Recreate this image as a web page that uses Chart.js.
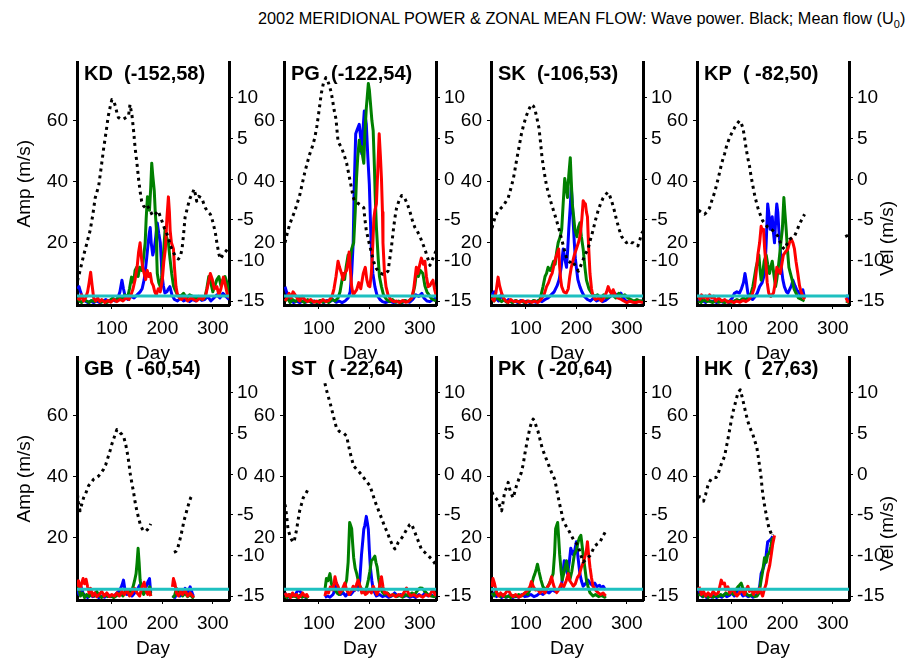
<!DOCTYPE html>
<html>
<head>
<meta charset="utf-8">
<script src="https://cdn.jsdelivr.net/npm/chart.js@4.4.1/dist/chart.umd.min.js"></script>
<style>
  body { margin: 0; background: #fff; width: 910px; height: 660px; position: relative; overflow: hidden; }
  canvas { position: absolute; }
  #title { position: absolute; left: 258px; top: 8px; font: 16.3px "Liberation Sans", Arial, sans-serif; color: #000; white-space: nowrap; line-height: 20px; }
  #title sub { font-size: 11px; vertical-align: -4px; line-height: 0; }
</style>
</head>
<body>
<div id="title">2002 MERIDIONAL POWER &amp; ZONAL MEAN FLOW: Wave power. Black; Mean flow (U<sub>0</sub>)</div>
<script>
'use strict';

var FONT = '"Liberation Sans", Arial, Helvetica, sans-serif';

//Station labels (name, lon, lat)
var STATIONS = ['KD  (-152,58)', 'PG  (-122,54)', 'SK  (-106,53)', 'KP  ( -82,50)',
                'GB  ( -60,54)', 'ST  ( -22,64)', 'PK  ( -20,64)', 'HK  (  27,63)'];

//Axis ranges and ticks
var X_MIN = 31, X_MAX = 332;
var X_TICKS = [100, 200, 300];
var AMP_MIN = -0.3, AMP_MAX = 78.9;
var AMP_TICKS = [20, 40, 60];
var VEL_MIN = -15.47, VEL_MAX = 14.38;
var VEL_TICKS = [-15, -10, -5, 0, 5, 10];

//Threshold level (cyan line) per station
var CYAN_LEVEL = [2.6, 2.6, 2.6, 2.6, 3.2, 3.2, 3.2, 3.2];

//KD: [day, value]
var KD_VEL = [[32,-12.5],[38,-11],[44,-9.4],[50,-8],[57,-6.3],[62,-4.5],[67,-2.3],[74,-0.8],[79,1.5],[84,3.9],[89,6],[93,7.8],[97,9],[100,9.8],[104,9.6],[107,9.0],[110,8.2],[113,7.6],[118,7.4],[123,7.4],[128,7.6],[133,7.8],[136,9.2],[140,7.8],[143,6],[146,3.9],[150,1.8],[153,0],[156,-1.5],[159,-2.7],[163,-3.3],[166,-3.5],[170,-3.2],[176,-3.9],[181,-4.5],[186,-4.3],[190,-4.0],[192,-3.9],[196,-4.6],[199,-5.1],[204,-6],[209,-6.7],[213,-7.5],[216,-8.2],[222,-9.0],[227,-9.6],[232,-9.8],[236,-9.4],[239,-8.6],[242,-6.8],[245,-4.7],[250,-3.4],[255,-2.3],[259,-1.8],[263,-1.2],[266,-2],[268,-2.7],[272,-2.1],[278,-2.3],[282,-3],[285,-3.5],[290,-4],[295,-4.3],[298,-4.8],[301,-5.5],[305,-6.6],[308,-7.8],[312,-9.2],[315,-9.8],[319,-9.4],[324,-9.0],[329,-8.6],[332,-8.4]];
var KD_BLUE = [[32,5],[35,5.7],[38,4],[42,2],[47,1],[52,0.5],[58,1],[64,0.5],[70,1],[76,0.5],[82,1],[88,1.5],[94,0.8],[100,1.5],[106,1],[112,2],[116,4],[120,7.8],[123,5],[127,2],[132,1.5],[138,2.5],[144,2],[150,3],[156,4],[160,5],[164,8],[167,12],[169,15],[172,20],[174,23],[176,25],[178,20],[181,16],[184,18],[187,22],[190,26.5],[193,23],[196,20],[198,14],[199,10],[202,6],[205,3.6],[209,4],[212,5],[215,5.7],[219,3],[224,1.5],[230,1],[236,2],[242,1],[248,1.5],[254,0.8],[260,1.5],[266,1],[272,2],[278,1.2],[284,1.5],[290,2.5],[296,1],[302,2],[308,3],[314,2],[320,3.5],[326,2.5],[332,1.5]];
var KD_GREEN = [[32,2],[36,1],[40,0.5],[45,1.5],[50,1],[55,0.5],[60,1.2],[66,0.8],[72,1.5],[78,0.6],[84,1],[90,0.5],[96,1.2],[102,2],[108,1],[114,2.5],[120,1.5],[126,3],[131,2],[135,5],[139,8.8],[143,7],[146,11],[149,12],[152,9],[155,12],[159,11],[162,14],[166,20],[168,28],[170.5,35],[172,33],[174.5,30.6],[177,38],[179,46],[181,42],[184,37],[186,30],[188,25],[189,15],[190,10],[193,7],[196,5.7],[199,9],[202,16],[205.5,24.4],[208,22],[212,20],[215,15],[218.5,10],[222,6],[225,4.7],[230,3],[236,2.5],[242,3.5],[248,2],[254,3],[260,2.5],[266,1.8],[272,2.5],[278,1.5],[284,2],[288,5],[292,9],[296,7],[300,4],[304,6],[308,8],[312,9],[316,6],[320,8],[324,9],[328,7],[332,3]];
var KD_RED = [[32,2],[36,1.5],[40,3],[44,1],[48,2],[52,4],[55,7],[58,10.4],[61,6],[64,2],[68,1],[72,2],[76,0.8],[80,1.5],[86,0.5],[92,1.2],[98,0.6],[104,1.5],[110,0.8],[116,1.5],[122,1],[128,2],[134,1.5],[138,3],[142,5],[146,8],[150,12],[153,17],[156,20],[158,16],[161,12],[164,10],[167,8],[170,11],[173,9],[176,10],[179,7],[182,6],[185,4],[188,3],[192,5],[196,4],[200,8],[203,14],[206,18],[209,28],[212,35],[214,30],[215.5,24],[218,20],[222,18],[224,12],[227,5.7],[230,3],[234,2],[238,1.5],[244,2.5],[250,1],[256,2],[262,1.5],[268,1],[274,2],[280,1.5],[286,3],[290,6],[295,10],[299,8],[303,5],[308,5.7],[312,3],[316,5],[321,8.8],[325,6],[329,3],[332,2]];

//PG
var PG_VEL = [[33,-7.8],[38,-6.5],[42.6,-5.5],[48,-4.6],[52.5,-3.9],[57,-3],[62,-2],[67,-0.6],[72,0.8],[77,2],[82,3.1],[87,4],[92,5.1],[96,6.5],[99,7.8],[102,9.2],[105,10.6],[109,11.8],[114,12.5],[117,12.2],[120,11.7],[124,10.8],[127,9.8],[130,8.6],[134,7.4],[136,6],[138,4.7],[141,4.3],[145,3.9],[150,3],[155,2],[160,0.4],[165,-1.2],[168,-2.2],[171,-2.7],[176,-2.9],[181,-3.1],[185,-3.3],[189,-3.5],[191,-4.8],[194,-6.3],[199,-7.7],[204,-9],[209,-10.2],[214,-11],[220,-11.5],[227,-11.7],[232,-11.6],[237,-11.3],[240,-10],[244,-8.2],[248,-6],[251,-4.6],[254,-3.5],[259,-2.6],[264,-2],[267,-2.1],[270,-2.3],[275,-3],[280,-3.9],[285,-5],[290,-5.9],[295,-6.4],[300,-7],[305,-7.8],[310,-8.6],[315,-9.6],[320,-10.6],[324,-10],[328,-9.4],[332,-8.8]];
var PG_BLUE = [[33,5.7],[36,4],[40,2],[45,1],[50,0.5],[56,1],[62,0.5],[68,1],[74,0.6],[80,1.2],[86,0.5],[92,1],[98,0.6],[104,1],[110,0.5],[116,1.2],[122,0.8],[128,1.5],[134,0.6],[140,1],[146,0.5],[152,1],[158,2],[162,4],[165,10],[168,20],[170,38],[173,55.6],[176,57],[180,58.7],[183,54],[185,49],[187,56],[190,63],[192,61],[194,58.7],[197,48],[200,39],[202,28],[204,18],[207,10],[211,5.7],[215,3],[221,1.5],[226,0.8],[232,0.5],[240,1],[248,0.5],[256,0.8],[264,0.5],[272,1],[280,0.6],[286,1.5],[292,3],[298,2.5],[304,3.5],[308,2],[314,1],[320,0.8],[326,1.5],[332,2]];
var PG_GREEN = [[33,1],[38,2],[43,0.5],[48,1.5],[54,0.8],[60,2],[66,1],[72,0.5],[78,1.5],[84,0.6],[90,1],[96,0.5],[102,1.2],[108,0.6],[114,1],[120,0.5],[126,1.5],[132,1],[138,2],[142,4],[145,7],[148,10],[151,8],[154,12],[158,16],[161,13],[165,18],[169,20],[172,30],[174.6,41],[177,48],[180,53.5],[182,50],[184.5,51.4],[187,48],[189,46],[191,55],[194,64],[196,68],[198,72],[200,70],[202,66],[205,60],[207.6,56.6],[210,45],[211.5,35.8],[214,25],[217.5,15],[220,9],[224,5.7],[228,3],[234,1.5],[240,0.8],[246,1.5],[252,0.6],[258,1],[264,0.5],[270,1.2],[276,0.8],[282,1.5],[286,3],[290,6],[293,10],[297,9],[301,11],[306,10],[310,6],[314,4],[318,3],[322,2],[326,1.5],[332,1]];
var PG_RED = [[33,1],[37,2],[41,3.5],[45,2],[49,4],[53,3],[57,2],[62,1],[67,2.5],[72,1.5],[78,0.8],[84,1.5],[90,0.6],[96,1],[102,0.5],[108,1.5],[114,0.8],[120,1.2],[126,2.5],[130,5],[134,9],[138,14],[141,12],[145,10],[148,8],[151,10],[155,11],[158,14],[160,17],[162,12],[165,5.7],[168,3],[172,4],[175,4.7],[179,7],[183,5],[188,10],[192,12],[195,8],[198,6],[201,5.7],[204,10],[207,20],[209,28],[211,30.6],[214,32.7],[217,45],[219.5,55.6],[222,48],[224,41],[226,30],[227,20],[230,10],[233,5.7],[237,3],[242,1.5],[248,0.8],[254,1],[260,0.5],[266,1.2],[272,0.6],[278,1],[284,2],[288,5],[293,12],[296,10],[300,13],[303,15],[307,13],[310,14],[313,9],[316.5,5.7],[320,6],[323,7],[326,7.8],[329,5],[332,3]];

//SK
var SK_VEL = [[33,-6],[35,-5.5],[40,-4.5],[45,-3.9],[50,-3.6],[55,-3.3],[60,-2.8],[65,-2.3],[70,-1.2],[75,0],[78,1],[81.5,2.3],[86,3.8],[91,5.5],[96,6.8],[101,7.8],[106,8.6],[111,9.2],[115,9],[118,8.6],[122,7.5],[126,6.3],[129,4.6],[132,2.7],[136,1],[141,-0.8],[146,-2],[151,-3.1],[156,-4.1],[161,-5.1],[166,-6.2],[171,-7.4],[176,-8.6],[181,-9.8],[184,-10],[187,-10.2],[190,-10],[194,-10.2],[199,-10.8],[204,-11.3],[209,-10.6],[214,-9.8],[218,-9.2],[223,-8.6],[228,-7.4],[233,-6.3],[238,-5],[243,-3.9],[248,-3],[253,-2.3],[258,-1.9],[262,-1.6],[266,-2],[270,-2.7],[275,-3.8],[280,-5.1],[285,-6.2],[289,-7],[294,-7.4],[299,-7.8],[305,-7.6],[309,-7.8],[312.5,-7.8],[317,-8],[322,-8.2],[326,-7.4],[329,-6.7],[332,-6.4]];
var SK_BLUE = [[33,3],[37,4],[41,2],[46,1],[51,3],[56,1.5],[61,0.8],[66,1.5],[72,0.6],[78,1],[84,0.5],[90,1.2],[96,0.6],[102,1],[108,0.5],[114,1],[120,0.6],[126,1.2],[132,0.8],[138,1.5],[144,2],[150,3],[156,4],[162,6],[166,8],[170,12],[174,18],[177,15],[180.5,12],[183,18],[185,24.4],[188,32],[190,38],[192,33],[194,26],[196,20],[198,15],[200,12],[203,8],[207,5.7],[211,4],[216,2.5],[222,1.5],[228,1],[234,2],[240,1],[246,1.5],[252,0.8],[258,1.2],[264,2],[270,3],[276,3.5],[282,2.5],[288,3.6],[293,2],[298,1],[304,0.8],[310,1],[316,0.5],[322,0.8],[328,1],[332,0.5]];
var SK_GREEN = [[33,2],[37,1],[42,2.5],[47,1.5],[52,0.8],[57,1.5],[62,0.6],[68,1],[74,0.5],[80,1.2],[86,0.6],[92,1],[98,0.5],[104,1],[110,0.6],[116,1.2],[122,0.8],[128,1.5],[134,5.7],[138,9],[141,10],[144,12],[148,11],[151,12],[155,14],[158,13],[161,17],[164,20],[168,22],[171,24.4],[174,33],[177,41],[180,38],[182.5,34.8],[185,42],[188,47.8],[190,40],[192,32.7],[195,28],[197,24.4],[201,22],[204,25],[207,26.5],[210,22],[213.5,18],[217,12],[220,7.8],[225,5],[230,3.6],[236,2.5],[242,3],[248,2],[254,3],[260,2],[266,2.5],[272,3],[278,2],[284,3.5],[290,2.5],[296,3],[302,2],[308,1.5],[314,1],[320,1.5],[326,1],[332,1]];
var SK_RED = [[33,2],[37,1],[41,4],[45,8.8],[48,6],[52,3.6],[56,2],[60,1],[65,0.5],[70,1.5],[76,0.8],[82,1],[88,0.6],[94,1.2],[100,0.5],[106,1],[112,0.6],[118,1],[124,0.5],[130,1.5],[136,3],[141,5.7],[145,7],[149,9],[152,10],[156,13],[159,15],[161,16],[163,17],[165,18],[167,12],[169,8],[171,5.7],[175,4],[180,3.6],[184,5],[187,9],[190,12],[193,14],[196,16],[200,18],[204,20],[207,22],[209,24.4],[211,28],[213.5,33.7],[216,33],[218,32.7],[220,30],[222,28.5],[224,20],[227,10],[230,5],[233,2.6],[238,1.5],[244,2],[250,1],[256,2.5],[260,4],[263,5.7],[267,4],[270,3.5],[273,4.7],[277,3],[282,2],[289,1.5],[294,1],[300,0.5],[306,1],[312,0.6],[318,0.5],[324,0.8],[332,0.5]];

//KP (data gap between day 245 and 324)
var KP_VEL = [[34,-3.8],[36,-3.9],[40,-4.1],[46,-4.3],[51,-4],[56,-3.5],[61,-2.5],[66,-1.6],[71,-0.4],[75.6,0.8],[80,2],[85.5,3.1],[90,4.2],[95.4,5.1],[100,5.7],[105,6.3],[110,6.8],[115,7.2],[118,7],[122,6.3],[125,5.2],[128,3.9],[131,2.8],[135,1.6],[138,0.4],[141.6,-0.8],[146,-2.2],[151.5,-3.5],[156,-4.3],[161,-5.1],[166,-5.5],[171,-5.9],[176,-6.1],[181,-6.3],[186,-6.6],[191,-7],[195,-7.6],[198,-8.2],[201,-8.4],[204,-8.6],[209,-8],[214,-7.4],[219,-7.2],[224,-7],[229,-6.3],[234,-5.5],[239,-4.9],[244,-4.3],[245,null],[324,null],[326,-6.8],[329,-7.2]];
var KP_BLUE = [[34,1],[38,2],[43,1],[48,0.5],[53,1.5],[58,0.8],[64,1],[70,0.5],[76,1.2],[82,0.6],[88,1],[94,0.5],[98,1.5],[101,2],[105,3.5],[110,4],[115,3.6],[119,5],[123,7],[126,10],[128,8],[131.7,3.6],[136,2],[141,1.5],[146,2.5],[150,3.5],[155,5.7],[160,7],[165,10],[168,20],[171,32.7],[173,30],[176,24.4],[178,27],[180,28.5],[182,24],[184.5,20],[187,28],[189,32.7],[191,30],[193,24.4],[196,18],[198,12],[201,8],[204,5.7],[208,4],[211,3.6],[215,5],[218,6],[221,7.8],[225,6],[229,4.5],[234,3.6],[237,2.5],[240.6,4.7],[244,2],[245,null],[324,null],[326,3],[329,2],[332,1.5]];
var KP_GREEN = [[34,1],[39,0.5],[44,1.5],[50,0.8],[56,1],[62,0.5],[68,1.2],[74,0.6],[80,1],[86,0.5],[92,1],[98,0.6],[104,1],[110,1.5],[116,1],[122,2],[128,1.5],[134,2.5],[138,3.5],[141.6,5.7],[145,9],[148,12],[151,14],[153.5,16],[156,11],[158,7.8],[161,10],[164,14],[168,16],[171,13],[174.6,10],[177,12],[180,14],[183,10],[186.5,5.7],[189,8],[192,12],[194.6,16],[197,20],[200,24.4],[203,34.8],[205,30],[207.6,24.4],[210,18],[213,12],[216,10],[219.5,7.8],[223,5],[227,3.6],[232,2],[238,1.5],[244,1],[245,null],[324,null],[326,1],[332,0.5]];
var KP_RED = [[34,2.6],[37,1.5],[40,3],[44,2],[48,2.6],[52,1.5],[56,3],[60,2],[64,2.6],[68,1],[74,2],[80,1],[86,1.5],[92,0.6],[98,1],[104,0.5],[110,1],[116,0.6],[122,1.2],[128,0.8],[134,1.5],[140,3],[145,5.7],[148,10],[151.5,16],[155,20],[158,25.4],[160,24],[162.7,24.4],[165,18],[168,12],[170,7],[173,3.6],[177,2.5],[182.5,3.6],[186,7],[189,12],[192,11],[195.7,10],[199,13],[202,16],[206,17],[211,18],[214,20],[217.5,21.3],[221,20],[224,18],[227,14],[230.7,10],[234,6],[237,4],[240.6,2.6],[244,1.5],[245,null],[324,null],[326,2],[329,1],[332,0.5]];

//GB (data gap between day 178 and 218)
var GB_VEL = [[32,-2.5],[34,-3.5],[37,-4.5],[40,-3.8],[44,-2.9],[48,-2.4],[54,-1.4],[58,-1.1],[64,-0.6],[69,-0.4],[74,-0.2],[79,0.2],[83.5,0.6],[88,1.2],[93,2.2],[97,3],[100,3.7],[105,4.6],[110,5.5],[113,5.4],[116.5,5.1],[120,4.9],[124,4.5],[128,3.5],[131,2.5],[134,1.3],[136,0.2],[140,-1.2],[143,-2.2],[146,-3.4],[149.5,-4.5],[153,-5.4],[156,-6.1],[160,-6.7],[163,-7],[167,-7],[170.6,-6.8],[174,-6.5],[177,-6.1],[178,null],[222,null],[223,-9.6],[227,-9.5],[230,-9.2],[233,-8.5],[236.6,-7.6],[240,-6.6],[243,-5.7],[247,-4.8],[250,-4.1],[253,-3.5],[256,-2.9],[260,-2.5]];
var GB_BLUE = [[32,3],[35,1.5],[39,4],[43,2],[47,1],[52,0.5],[57,1.5],[62,0.8],[68,1.2],[74,0.5],[80,1],[86,0.6],[92,1.5],[98,0.8],[104,1],[110,2],[116,3],[120,4.5],[123,6.2],[126,3],[130,1.5],[135,2.5],[140,1],[145,2],[150,3],[155,4.5],[160,3],[164,2],[168,4],[171,5.5],[174.6,6.7],[177,2],[178,null],[218,null],[220,1],[225,0.5],[230,2.5],[235,1],[240,2],[245,3.5],[250,2],[255,4],[260,1.5],[262,1]];
var GB_GREEN = [[32,5],[35,3],[38,1],[42,2],[46,0.5],[50,1.5],[55,0.8],[60,2],[65,1],[70,2.5],[75,1],[80,0.5],[86,1.5],[92,0.8],[98,1],[104,0.5],[110,1.2],[116,2],[122,1],[128,2.5],[134,3],[138,2],[142,4],[145,6],[148,8.3],[150,12],[152,16.6],[154,12],[156,6.2],[159,3],[163,1.5],[167,3],[171,2],[175,4],[177,1],[178,null],[218,null],[220,0.5],[224,1],[228,3.5],[232,1.5],[236,2.5],[240,1],[245,2],[250,0.8],[255,1.5],[260,0.5],[262,1]];
var GB_RED = [[32,4],[34,6],[37,3],[40,5],[43,6.7],[46,5],[49,6.5],[52,4],[55,2],[58,3.5],[62,1],[66,2],[70,0.8],[75,1.5],[80,2.5],[85,1],[90,2],[95,0.8],[100,1.5],[105,1],[110,2],[115,1],[120,2.5],[125,1.5],[130,3],[135,1],[140,2],[145,3.5],[150,2],[155,1],[160,4],[164,5.5],[167,3],[171,1.5],[174,3],[177,1],[178,null],[218,null],[220,4],[222,6.7],[225,5],[228,2],[232,1],[236,2.5],[240,1.5],[245,3],[250,1],[255,2],[260,1],[262,0.5]];

//ST (data gap between day 80 and 111)
var ST_VEL = [[33,-3.7],[36,-5],[39,-6.8],[44,-7.8],[49,-8.4],[52,-8],[56,-6.8],[59,-5.6],[62,-4.5],[66,-3.6],[69,-2.9],[74,-2.4],[79,-1.8],[80,null],[111,null],[112,11.2],[115,10.4],[118.5,9.6],[123,8.6],[127,7.6],[131,6.6],[135,5.7],[140,5.3],[145,5.1],[150,5],[155,4.7],[158,3.8],[161,2.9],[165,1.9],[169,1.0],[175,0.6],[181,0.2],[186,-0.2],[191,-0.6],[196,-1],[201,-1.4],[206,-2.3],[211,-3.3],[216,-4.1],[221,-4.9],[226,-5.7],[230.7,-6.5],[236,-7.2],[240.6,-8.0],[245,-8.6],[250.5,-9.2],[254,-8.8],[257,-8.4],[262,-8],[267,-7.6],[272,-7],[277,-6.5],[280,-6.2],[283.5,-6.1],[288,-6.8],[293,-7.6],[298,-8.4],[303,-9.2],[308,-9.5],[313,-9.8],[318,-10.1],[323,-10.4],[327,-10.7],[330,-11],[332,-11.2]];
var ST_BLUE = [[33,2],[37,1],[42,0.5],[47,1.5],[52,1],[57,2.5],[61,3],[65,2],[70,1],[74,0.5],[79,1],[80,null],[111,null],[112,0.5],[117,1],[122,0.6],[128,1.5],[132,3],[135,5.2],[139,3],[143,1.5],[148,2.1],[153,1],[158,2],[163,1.5],[168,2.5],[172,3],[175,4.2],[178,3],[181,6],[184.5,14.5],[187,19],[189,22.8],[191,24],[194,27],[196,25],[198,22.8],[200,16],[202,10.4],[205,6],[207.6,3.1],[211,2],[214,1],[220,1.5],[226,0.8],[232,1.2],[238,0.6],[244,1],[250,2],[256,1],[262,1.5],[268,0.8],[274,1.2],[280,0.6],[286,1],[292,0.5],[298,1.5],[304,0.8],[310,2],[316,1],[322,1.5],[328,0.8],[332,1]];
var ST_GREEN = [[33,1],[37,0.5],[42,1.5],[47,0.8],[52,1],[57,0.5],[62,1.2],[67,0.6],[72,1],[76,0.5],[79,1],[80,null],[111,null],[112,3],[115,6.7],[118,6],[122,8.3],[125,5],[128,4],[132,3.1],[136,2],[140,1.5],[145,2.5],[150,3.5],[155,6.2],[158,12],[161,25],[163,24],[165,23],[167,18],[169,13.5],[172,10],[175,8.3],[178,6],[181,4.2],[186,3],[191,2],[195,4],[198,6.2],[201,9],[204,12.5],[207,13],[211,14],[213,12],[215.5,10.4],[218,7],[221,4.2],[225,2.5],[230,1.5],[236,2],[242,1],[248,1.5],[254,0.8],[260,1.2],[266,0.6],[272,1.5],[278,1],[284,2],[290,1.5],[296,3],[300,3.6],[305,3.5],[310,2.5],[316,1.5],[322,1],[328,0.8],[332,1]];
var ST_RED = [[33,2],[36,1],[40,1.5],[44,0.5],[48,2],[52,1],[56,1.5],[60,0.5],[64,1],[68,2],[72,1],[76,1.5],[79,0.5],[80,null],[111,null],[112,1],[115,3.1],[119,2],[123,4],[127,3],[130,5],[132,7.3],[135,5],[138,4.2],[142,2],[146,3],[151.5,5.2],[155,3],[160,1.5],[164,2.5],[168,4.2],[172,3],[175,5],[178,6.2],[182,4],[185,2],[188,3.1],[192,1.5],[196,2],[200,3],[204,2],[207.6,4.2],[211,3],[215,1.5],[219,3],[222,6],[224,7.3],[227,4],[230,2],[234,2.1],[240,1],[246,1.5],[252,0.8],[258,1.5],[264,1],[270,2.5],[273.6,3.6],[277,2],[282,1],[288,1.5],[294,0.8],[300,1.2],[306,0.6],[312,1.5],[318,1],[322,2],[326,3.1],[330,1.5],[332,1]];

//PK
var PK_VEL = [[33,-2.2],[35,-2.5],[40,-2.9],[45,-3.3],[49,-4],[52,-4.5],[55,-3.4],[58,-2.2],[62,-1.6],[65,-1.0],[68,-1.8],[71,-2.4],[75,-2.9],[78,-2.2],[81.5,-1.4],[86,-0.6],[91,0.2],[95,1.3],[98,2.5],[103,4.2],[108,5.7],[111,6.3],[114.5,6.8],[118,6.4],[121,5.8],[124,5.3],[128,4.3],[132,3.3],[136,2.6],[141,1.8],[146,1],[151,0.2],[154,-0.2],[157,-0.6],[160,-1.5],[164,-2.8],[167,-3.7],[171,-4.8],[174,-5.7],[179,-6.3],[184,-6.8],[189,-7.4],[194,-8.0],[199,-8.4],[203.6,-8.8],[208,-9.8],[213.5,-10.8],[217,-10.6],[220,-10.4],[224,-10.2],[227,-10],[232,-9.4],[236.6,-8.8],[241,-8.6],[246.5,-8.4],[251,-7.8],[256.4,-7.2],[258,-7]];
var PK_BLUE = [[33,1],[37,2],[42,0.8],[47,1.5],[52,0.5],[57,1],[62,0.6],[68,1.2],[74,0.5],[80,1],[86,0.6],[92,1.5],[98,0.8],[104,1],[110,1.5],[116,0.8],[122,1.2],[128,2],[134,1.5],[140,2.5],[146,2],[152,3],[158,2.5],[164,3],[168,3.5],[170.6,4.2],[173,8],[176,12.5],[179,10],[182.5,8.3],[186,12],[189,16.6],[192,15],[194,14.5],[197,16],[200,18.7],[203,14],[207,8.3],[210,6],[213.5,4.2],[218,5],[223,6.2],[228,5],[232,4.5],[236.6,5.2],[241,4],[246,4.5],[250,3.5],[253,4.2],[256,3.5],[258,3.1]];
var PK_GREEN = [[33,2],[37,1],[41,2.5],[45,1.5],[50,0.8],[55,1.5],[60,0.6],[65,1],[70,0.5],[75,1.2],[80,0.8],[86,1.5],[92,1],[98,2],[104,1.5],[108,3],[112,5],[115,7],[118,8.3],[121,10],[123,11.4],[126,9],[130,6.2],[134,4],[139,3],[144,4.2],[149,6],[154,8.3],[157,15],[159,23],[161,24],[163,25],[165,20],[167,14.5],[170,9],[172,6.2],[176,9],[180.5,12.5],[184,9],[187,6.2],[191,9],[196,14.5],[200,16],[203.6,18.7],[206,20],[209,20.8],[211,18],[213.5,14.5],[217,10],[220,6.2],[224,3.5],[227,2.1],[233,1.0],[238,1.5],[244,0.8],[250,1.2],[256,0.6],[258,1]];
var PK_RED = [[33,4],[35,6.7],[38,5],[42,2.1],[46,1],[50,2],[55,1],[60,2],[65,3.1],[70,1.5],[75,0.8],[80,1.5],[86,0.6],[92,1.2],[98,2],[104,3],[108,4],[111,5.7],[115,4],[119,3],[124,3.1],[128,2],[133,3],[138,2],[143,4],[147,5],[151,7.3],[154,5],[158,3],[161,2.1],[165,3],[170,5],[175,4],[180,6],[184,8.3],[187,6],[191,5],[194,4.2],[198,5],[202,7],[206,8],[210,10.4],[214,12],[218,14.5],[220,16],[222,18.7],[224,15],[227,10.4],[230,7],[233,4.2],[238,3],[243,2.1],[248,1.5],[253,2],[258,1]];

//HK
var HK_VEL = [[35,-2.6],[36,-2.9],[40,-3.2],[44,-3.3],[48,-2.5],[52.5,-1.4],[56,-0.9],[59,-0.6],[64,-0.4],[69,-0.4],[72,-0.1],[75.6,0.6],[80,1.4],[85.5,2.2],[90,3.6],[94,4.9],[98,6.3],[102,7.6],[107,8.8],[112,10.0],[116.5,10.4],[120,9.6],[123,8.8],[127,7.7],[131.7,6.5],[136,5.7],[141.6,4.9],[146,4],[149.5,3.3],[152,2.3],[155,1.0],[158,-0.4],[160,-1.8],[163,-3.2],[166.7,-4.5],[170,-5.6],[173,-6.5],[176,-7],[180,-7.6],[181,-7.4]];
var HK_BLUE = [[35,3],[38,1.5],[42,0.8],[46,1.5],[50,0.5],[55,1],[60,0.6],[65,1.2],[70,0.5],[75,1],[80,0.6],[85,1.5],[90,0.8],[95,1.2],[100,2],[105,1],[110,2.5],[115,3.5],[118,2],[122,1],[127,1.5],[132,0.8],[137,1.2],[142,0.6],[147,1],[151,2],[155,4],[158,8.3],[162,10],[166.7,12.5],[169,16],[171,18.7],[174,19],[178,19.7],[181,20.5]];
var HK_GREEN = [[35,1],[39,2],[43,0.8],[48,1.5],[53,0.5],[58,1],[63,0.6],[68,1.2],[73,0.8],[78,1.5],[83,1],[88,2],[93,1.5],[98,2.5],[103,1.5],[108,3],[112,4],[115,4.5],[118.5,5.2],[121,4],[125,2.5],[130,1.5],[135,1],[140,1.5],[145,0.8],[150,1],[154,2],[158,6.2],[161,9],[164.7,13.5],[168,12],[171,14.5],[174,15],[177,17],[180,19.7],[181,20]];
var HK_RED = [[35,4],[37,3],[40,1.5],[44,2.5],[48,1],[53,2],[58,1],[63,2.5],[68,1.5],[73,2],[76,4],[79,6.2],[82,5],[85.5,5.2],[88,3],[92,4],[96,2],[100,3],[102,3.1],[106,2],[110,1],[115,2],[120,3],[125,1.5],[128,3],[131.7,4.2],[135,2.5],[139,3],[143,1.5],[147,3],[151,2],[155,3.5],[158,2],[161,1],[164,3],[168,5],[171,8.3],[175,11],[178,14.5],[181,18],[184.5,20.8]];

//One row per panel, in reading order
var PANELS = [
  {vel: KD_VEL, blue: KD_BLUE, green: KD_GREEN, red: KD_RED},
  {vel: PG_VEL, blue: PG_BLUE, green: PG_GREEN, red: PG_RED},
  {vel: SK_VEL, blue: SK_BLUE, green: SK_GREEN, red: SK_RED},
  {vel: KP_VEL, blue: KP_BLUE, green: KP_GREEN, red: KP_RED},
  {vel: GB_VEL, blue: GB_BLUE, green: GB_GREEN, red: GB_RED},
  {vel: ST_VEL, blue: ST_BLUE, green: ST_GREEN, red: ST_RED},
  {vel: PK_VEL, blue: PK_BLUE, green: PK_GREEN, red: PK_RED},
  {vel: HK_VEL, blue: HK_BLUE, green: HK_GREEN, red: HK_RED}
];

//Layout of the plot boxes (px)
var PLOT_LEFT = [77, 284, 491, 697];
var PLOT_TOP = [51, 346];
var PLOT_W = 152, PLOT_H = 254;
var PAD_L = 70, PAD_R = 70, PAD_T = 5, PAD_B = 60;

function pts(arr) {
  return arr.map(function (p) { return {x: p[0], y: p[1]}; });
}

function fixedTicks(list) {
  return function (scale) {
    scale.ticks = list.map(function (v) { return {value: v}; });
  };
}

//Draws the station name and the right hand axis title
var panelText = {
  id: 'panelText',
  afterDraw: function (chart, args, opts) {
    var ctx = chart.ctx;
    var a = chart.chartArea;
    ctx.save();
    ctx.fillStyle = '#000';
    ctx.font = 'bold 20px ' + FONT;
    ctx.textAlign = 'left';
    ctx.textBaseline = 'alphabetic';
    ctx.fillText(opts.label, a.left + 7, a.top + 18);
    if (opts.velTitle) {
      ctx.font = '19px ' + FONT;
      ctx.translate(a.right + 39, a.top + 176);
      ctx.rotate(-Math.PI / 2);
      ctx.textAlign = 'center';
      ctx.textBaseline = 'middle';
      ctx.fillText('Vel (m/s)', 0, 0);
    }
    ctx.restore();
  }
};

function axisBase() {
  return {
    grid: {display: true, drawOnChartArea: false, drawTicks: true, tickLength: 4, color: '#000', lineWidth: 1},
    border: {display: true, color: '#000', width: 3},
    ticks: {color: '#000', font: {size: 19, family: FONT}, autoSkip: false, maxRotation: 0}
  };
}

function makePanel(p, i) {
  var col = i % 4;
  var row = Math.floor(i / 4);
  var L = PLOT_LEFT[col];
  var T = PLOT_TOP[row];

  var cv = document.createElement('canvas');
  cv.width = PAD_L + PLOT_W + PAD_R;
  cv.height = PAD_T + PLOT_H + PAD_B;
  cv.style.left = (L - PAD_L) + 'px';
  cv.style.top = (T - PAD_T) + 'px';
  document.body.appendChild(cv);

  var xAxis = axisBase();
  xAxis.type = 'linear';
  xAxis.min = X_MIN;
  xAxis.max = X_MAX;
  xAxis.afterBuildTicks = fixedTicks(X_TICKS);
  xAxis.afterFit = function (s) { s.height = PAD_B; };
  xAxis.ticks.padding = 8;
  xAxis.title = {display: true, text: 'Day', color: '#000', font: {size: 19, family: FONT}, padding: {top: 0, bottom: 0}};

  var yAxis = axisBase();
  yAxis.position = 'left';
  yAxis.min = AMP_MIN;
  yAxis.max = AMP_MAX;
  yAxis.afterBuildTicks = fixedTicks(AMP_TICKS);
  yAxis.afterFit = function (s) { s.width = PAD_L; };
  yAxis.ticks.padding = 5;
  yAxis.title = {display: col === 0, text: 'Amp (m/s)', color: '#000', font: {size: 19, family: FONT}, padding: 6};

  var y1Axis = axisBase();
  y1Axis.position = 'right';
  y1Axis.min = VEL_MIN;
  y1Axis.max = VEL_MAX;
  y1Axis.afterBuildTicks = fixedTicks(VEL_TICKS);
  y1Axis.afterFit = function (s) { s.width = PAD_R; };
  y1Axis.ticks.padding = 4;

  var lvl = CYAN_LEVEL[i];

  new Chart(cv, {
    type: 'line',
    data: {
      //first dataset is drawn on top
      datasets: [
        {data: pts(p.vel), yAxisID: 'y1', borderColor: '#000', borderWidth: 3, borderDash: [3, 4], borderCapStyle: 'butt'},
        {data: [{x: X_MIN, y: lvl}, {x: X_MAX, y: lvl}], yAxisID: 'y', borderColor: '#1ec0c0', borderWidth: 3},
        {data: pts(p.red), yAxisID: 'y', borderColor: '#ff0000', borderWidth: 3},
        {data: pts(p.green), yAxisID: 'y', borderColor: '#008000', borderWidth: 3},
        {data: pts(p.blue), yAxisID: 'y', borderColor: '#0000ff', borderWidth: 3}
      ]
    },
    options: {
      responsive: false,
      animation: false,
      parsing: false,
      layout: {padding: {top: PAD_T, left: 0, right: 0, bottom: 0}},
      elements: {point: {radius: 0}, line: {tension: 0, borderJoinStyle: 'round'}},
      plugins: {
        legend: {display: false},
        tooltip: {enabled: false},
        panelText: {label: STATIONS[i], velTitle: col === 3}
      },
      scales: {x: xAxis, y: yAxis, y1: y1Axis}
    },
    plugins: [panelText]
  });
}

PANELS.forEach(makePanel);
</script>
</body>
</html>
